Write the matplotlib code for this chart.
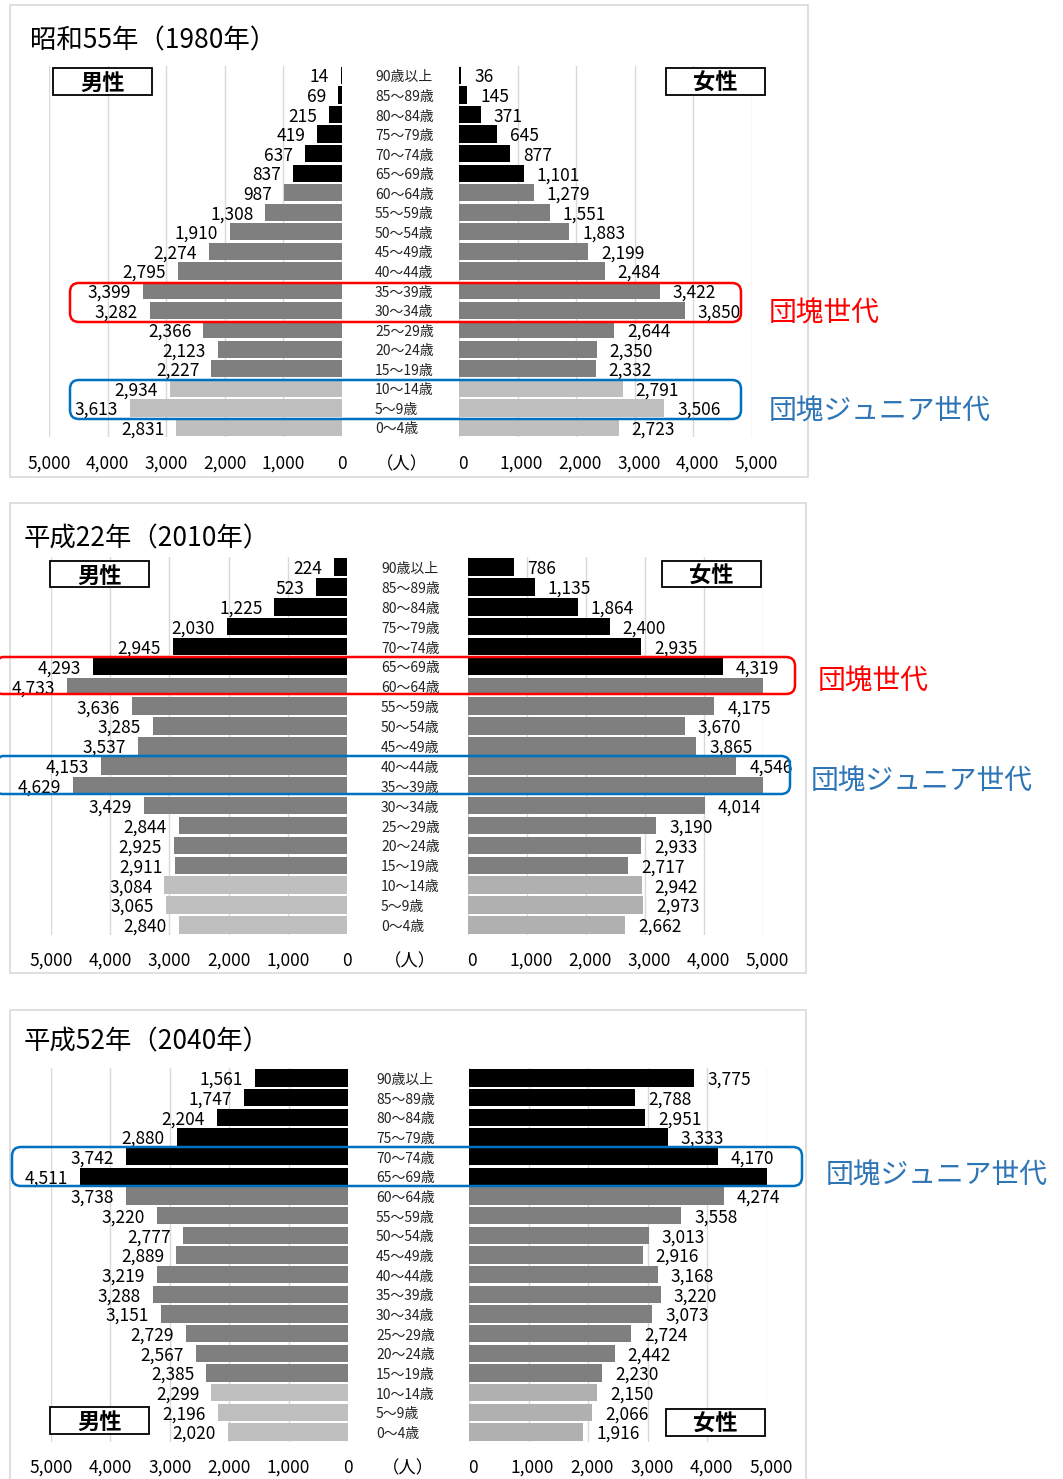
import matplotlib
matplotlib.use("Agg")
import matplotlib.pyplot as plt
from matplotlib.patches import FancyBboxPatch, Rectangle
from matplotlib.transforms import blended_transform_factory, offset_copy

plt.rcParams["font.family"] = ["Noto Sans CJK JP", "DejaVu Sans"]

W, H, DPI = 1063, 1479, 100

# ---------------------------------------------------------------- data
age_groups = ["90歳以上", "85～89歳", "80～84歳", "75～79歳", "70～74歳",
              "65～69歳", "60～64歳", "55～59歳", "50～54歳", "45～49歳",
              "40～44歳", "35～39歳", "30～34歳", "25～29歳", "20～24歳",
              "15～19歳", "10～14歳", "5～9歳", "0～4歳"]
ticks = [0, 1000, 2000, 3000, 4000, 5000]

titles = ["昭和55年（1980年）", "平成22年（2010年）", "平成52年（2040年）"]

male_1980 = [14, 69, 215, 419, 637, 837, 987, 1308, 1910, 2274, 2795,
             3399, 3282, 2366, 2123, 2227, 2934, 3613, 2831]
female_1980 = [36, 145, 371, 645, 877, 1101, 1279, 1551, 1883, 2199, 2484,
               3422, 3850, 2644, 2350, 2332, 2791, 3506, 2723]

male_2010 = [224, 523, 1225, 2030, 2945, 4293, 4733, 3636, 3285, 3537, 4153,
             4629, 3429, 2844, 2925, 2911, 3084, 3065, 2840]
female_2010 = [786, 1135, 1864, 2400, 2935, 4319, 5000, 4175, 3670, 3865,
               4546, 5000, 4014, 3190, 2933, 2717, 2942, 2973, 2662]

male_2040 = [1561, 1747, 2204, 2880, 3742, 4511, 3738, 3220, 2777, 2889,
             3219, 3288, 3151, 2729, 2567, 2385, 2299, 2196, 2020]
female_2040 = [3775, 2788, 2951, 3333, 4170, 5000, 4274, 3558, 3013, 2916,
               3168, 3220, 3073, 2724, 2442, 2230, 2150, 2066, 1916]

# bars that run to the end of the axis carry no value label
unlabeled_female_2010 = [6, 11]
unlabeled_female_2040 = [5]

boom_label = "団塊世代"
junior_label = "団塊ジュニア世代"
unit_label = "（人）"

# ---------------------------------------------------------------- styles
BLACK, DARK, LIGHT = "#000000", "#7F7F7F", "#BFBFBF"
GRID = "#D9D9D9"
RED, BLUE, BLUE_TXT = "#FF0000", "#0070C0", "#2E75B6"
TXT_DROP = 2  # px, nudges centred text onto the visual middle of its row


def row_colors(light):
    return [BLACK] * 6 + [DARK] * 10 + [light] * 3


panels = [
    dict(title=titles[0], male=male_1980, female=female_1980, skip=[],
         frame=(10, 5, 808, 477), title_xy=(30, 38),
         row_top=75.4, row_bot=427.5, L5=49, L0=342, R0=459, R5=752,
         tick_y=462, age_x=375, unit_x=402,
         mbox=(53, 68, 152, 95), fbox=(666, 68, 765, 95),
         light_f=LIGHT,
         hl=[(70, 283, 741, 322, RED, boom_label, 769, 310),
             (70, 380, 741, 419, BLUE, junior_label, 769, 408)]),
    dict(title=titles[1], male=male_2010, female=female_2010,
         skip=unlabeled_female_2010,
         frame=(10, 503, 806, 973), title_xy=(24, 536),
         row_top=567, row_bot=925, L5=51, L0=347, R0=468, R5=763,
         tick_y=959, age_x=381, unit_x=410,
         mbox=(50, 561, 149, 587), fbox=(662, 561, 761, 587),
         light_f="#B0B0B0",
         hl=[(-6, 657, 795, 694, RED, boom_label, 818, 679),
             (-6, 756, 790, 794, BLUE, junior_label, 811, 779)]),
    dict(title=titles[2], male=male_2040, female=female_2040,
         skip=unlabeled_female_2040,
         frame=(10, 1010, 806, 1495), title_xy=(24, 1039),
         row_top=1078, row_bot=1432, L5=51, L0=348, R0=469, R5=767,
         tick_y=1466, age_x=376, unit_x=408,
         mbox=(50, 1407, 149, 1434), fbox=(666, 1409, 765, 1436),
         light_f="#B0B0B0",
         hl=[(12, 1147, 802, 1186, BLUE, junior_label, 826, 1173)]),
]

fig = plt.figure(figsize=(W / DPI, H / DPI), dpi=DPI)
fig.patch.set_facecolor("white")

# full-figure overlay in pixel units for frames, titles and call-outs
canvas = fig.add_axes([0, 0, 1, 1], zorder=10)
canvas.set_xlim(0, W)
canvas.set_ylim(H, 0)
canvas.axis("off")
canvas.patch.set_alpha(0)


def fig_rect(x0, x1, y0, y1):
    return [x0 / W, 1 - y1 / H, (x1 - x0) / W, (y1 - y0) / H]


def style_axis(ax):
    for sp in ax.spines.values():
        sp.set_visible(False)
    ax.set_xticks(ticks)
    ax.set_yticks([])
    ax.tick_params(length=0, labelbottom=False, labelleft=False)
    ax.grid(axis="x", color=GRID, linewidth=1)
    ax.set_axisbelow(True)
    ax.patch.set_alpha(0)


pt = 72 / DPI  # points per pixel

for p in panels:
    n = len(age_groups)
    s = (p["row_bot"] - p["row_top"]) / (n - 1)
    y0 = p["row_top"] - s / 2
    y1 = p["row_bot"] + s / 2
    rows = list(range(n))

    axL = fig.add_axes(fig_rect(p["L5"], p["L0"], y0, y1))
    axL.set_xlim(5000, 0)
    axL.set_ylim(n - 0.5, -0.5)
    axR = fig.add_axes(fig_rect(p["R0"], p["R5"], y0, y1))
    axR.set_xlim(0, 5000)
    axR.set_ylim(n - 0.5, -0.5)
    style_axis(axL)
    style_axis(axR)

    axL.barh(rows, p["male"], height=0.88, color=row_colors(LIGHT))
    axR.barh(rows, p["female"], height=0.88, color=row_colors(p["light_f"]))

    for i, v in enumerate(p["male"]):
        axL.annotate(f"{v:,}", (v, i), xytext=(-12 * pt, -TXT_DROP * pt),
                     textcoords="offset points", ha="right", va="center",
                     fontsize=12.5, annotation_clip=False)
    for i, v in enumerate(p["female"]):
        if i in p["skip"]:
            continue
        axR.annotate(f"{v:,}", (v, i), xytext=(13 * pt, -TXT_DROP * pt),
                     textcoords="offset points", ha="left", va="center",
                     fontsize=12.5, annotation_clip=False)

    # tick labels along the bottom
    ty = 1 - (p["tick_y"] + TXT_DROP) / H
    tL = blended_transform_factory(axL.transData, fig.transFigure)
    tR = offset_copy(blended_transform_factory(axR.transData, fig.transFigure),
                     fig=fig, x=4, units="dots")
    for t in ticks:
        axL.text(t, ty, f"{t:,}", transform=tL, ha="center", va="center",
                 fontsize=12.5)
        axR.text(t, ty, f"{t:,}", transform=tR, ha="center", va="center",
                 fontsize=12.5)

    # age group labels between the halves
    tA = offset_copy(blended_transform_factory(fig.transFigure, axL.transData),
                     fig=fig, y=-TXT_DROP, units="dots")
    for i, a in enumerate(age_groups):
        axL.text(p["age_x"] / W, i, a, transform=tA, ha="left", va="center",
                 fontsize=10, color="#222222")

    canvas.text(p["unit_x"], p["tick_y"] + TXT_DROP, unit_label, ha="center",
                va="center", fontsize=12.5)

    # panel frame and title
    fx0, fy0, fx1, fy1 = p["frame"]
    canvas.add_patch(Rectangle((fx0, fy0), fx1 - fx0, fy1 - fy0, fill=False,
                               ec=GRID, lw=1.2))
    tx0, ty0 = p["title_xy"]
    canvas.text(tx0, ty0 + 3, p["title"], ha="left", va="center",
                fontsize=19)

    # sex labels
    for (bx0, by0, bx1, by1), txt in ((p["mbox"], "男性"), (p["fbox"], "女性")):
        canvas.add_patch(Rectangle((bx0, by0), bx1 - bx0, by1 - by0,
                                   fc="white", ec="black", lw=1.3))
        canvas.text((bx0 + bx1) / 2, (by0 + by1) / 2 + TXT_DROP, txt,
                    ha="center", va="center", fontsize=16, fontweight="bold")

    # generation call-outs
    for hx0, hy0, hx1, hy1, col, txt, tx, tyy in p["hl"]:
        canvas.add_patch(FancyBboxPatch(
            (hx0, hy0), hx1 - hx0, hy1 - hy0,
            boxstyle="round,pad=0,rounding_size=9",
            fc="none", ec=col, lw=1.8))
        canvas.text(tx, tyy + 3, txt, ha="left", va="center", fontsize=20,
                    color=RED if col == RED else BLUE_TXT)

fig.savefig("out.png", dpi=DPI, facecolor="white")
